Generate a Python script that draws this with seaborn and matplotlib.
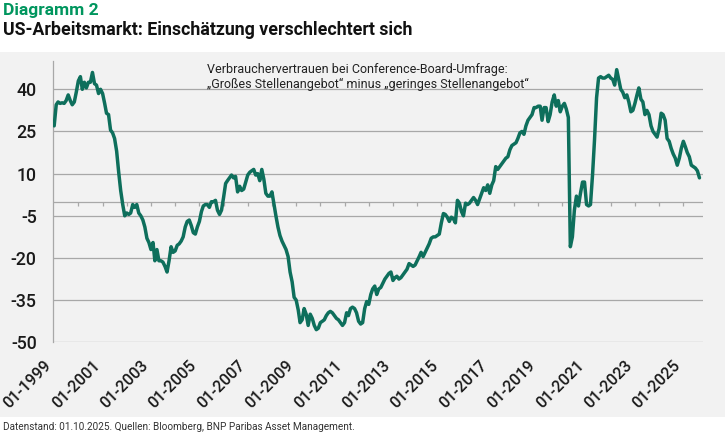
import matplotlib
matplotlib.use("Agg")
import numpy as np
import pandas as pd
import matplotlib.pyplot as plt
import seaborn as sns

# ---- data (monthly, 01-1999 .. 09-2025) ----
v1999 = [27, 34.5, 35.5, 35, 35.2, 35, 36, 38, 36, 34.5, 35.5, 39]
v2000 = [43, 44.5, 40, 42.5, 40.5, 42.5, 42.5, 46, 42, 41.5, 38.5, 40]
v2001 = [38.5, 35, 31.5, 31, 25.5, 24.5, 22.5, 18, 10.5, 4, -1, -5]
v2002 = [-4, -4.5, -4, -1, -2, -1, -4, -5, -6.5, -9, -13, -14.5]
v2003 = [-17, -14.5, -21, -17, -21, -21, -21.5, -23, -25, -21, -16, -18]
v2004 = [-17.5, -15.5, -15, -14, -12.5, -9, -7, -6.5, -8.5, -11, -11.5, -9]
v2005 = [-7, -3.5, -1.5, -1, -1, -2, 0, 0, 0.5, -3, -4.5, -3]
v2006 = [1.5, 6.5, 7.5, 8.5, 9.5, 8.5, 9, 3.5, 5.5, 4, 4.5, 7]
v2007 = [9.5, 10.5, 11, 11.5, 9.5, 10, 7.5, 11.5, 8, 3, 2, 2]
v2008 = [3.5, -1, -5, -9, -12, -14, -15.5, -17, -19.5, -25, -28.5, -34]
v2009 = [-35, -38.5, -43, -42, -38, -40, -44, -40, -41.5, -44, -45.5, -45]
v2010 = [-43, -42.5, -42, -40.5, -39.5, -39, -39.5, -40.5, -41.5, -42, -43, -44]
v2011 = [-43, -39.5, -40.5, -38, -37.5, -38, -39.5, -42.5, -43.5, -43, -38, -35.5]
v2012 = [-36.5, -33, -31, -30, -33, -31, -30.5, -29, -27.5, -26.5, -25.5, -25]
v2013 = [-28, -27, -26.5, -27.5, -27, -26, -25, -24, -22, -22.5, -23, -22.5]
v2014 = [-21, -19.5, -18, -19.5, -18, -16.5, -15, -13, -12.5, -12.5, -12, -11.5]
v2015 = [-7.5, -4.2, -4.5, -5.5, -7, -5.5, -6, -7.5, 0.5, -0.5, -3.5, -5]
v2016 = [-0.5, -1, -0.5, 0.5, 1.5, 0.5, -1, 1, 3, 5, 4, 6]
v2017 = [3, 6, 7.5, 12.5, 11.5, 12.5, 13.5, 14.5, 15.5, 16, 18.5, 20]
v2018 = [20.5, 21, 22.5, 24.5, 25, 24, 27, 29, 30, 31, 33.5, 33.5]
v2019 = [34, 34, 29, 33.5, 33.5, 28.5, 31, 35.5, 38, 34, 36, 32]
v2020 = [34, 35, 33, 30, -16, -12.5, -3, 2, -1.5, 3, 7, 7]
v2021 = [-1, -1.5, -1, 9.5, 22, 37, 44, 44.5, 44, 44, 44.5, 45]
v2022 = [44, 43.5, 41.5, 47, 43.5, 40, 39, 37, 38, 35.5, 32, 32.5]
v2023 = [35, 38, 40.5, 36.5, 35.5, 31, 32.5, 31, 27, 25, 24, 23]
v2024 = [26, 31.5, 31, 29, 22.5, 21.5, 19, 17, 15.5, 13, 15.5, 19]
v2025 = [21.5, 19.5, 17.5, 16, 13, 12.5, 12, 11, 8.5]

yearly = [v1999, v2000, v2001, v2002, v2003, v2004, v2005, v2006, v2007,
          v2008, v2009, v2010, v2011, v2012, v2013, v2014, v2015, v2016,
          v2017, v2018, v2019, v2020, v2021, v2022, v2023, v2024, v2025]
values = [v for year in yearly for v in year]
dates = pd.date_range("1999-01-01", periods=len(values), freq="MS")
df = pd.DataFrame({"date": dates, "value": values})

y_ticks = [-50, -35, -20, -5, 10, 25, 40]
label_years = list(range(1999, 2026, 2))
tick_years = list(range(2000, 2026))

title_top = "Diagramm 2"
title_main = "US-Arbeitsmarkt: Einschätzung verschlechtert sich"
note = ("Verbrauchervertrauen bei Conference-Board-Umfrage:\n"
        "\u201eGroßes Stellenangebot\u201c minus \u201egeringes Stellenangebot\u201c")
footer = "Datenstand: 01.10.2025. Quellen: Bloomberg, BNP Paribas Asset Management."

# ---- style ----
sns.set_style("white")
plt.rcParams["font.family"] = ["Roboto", "DejaVu Sans"]

LINE = "#0e6f5c"
GRID = "#a8a8a8"
BG = "#f2f2f2"

W, H = 725, 434
fig = plt.figure(figsize=(W / 100, H / 100), dpi=100)
fig.patch.set_facecolor("white")

# background panel as an empty axes behind the chart
bg = fig.add_axes([0, 17 / H, 1, (417 - 52) / H], zorder=-10)
bg.set_facecolor(BG)
bg.set_xticks([])
bg.set_yticks([])
for s in bg.spines.values():
    s.set_visible(False)

ax_left, ax_right = 53.3, 702.7
ax_top, ax_bot = 61.2, 342.3
ax = fig.add_axes([ax_left / W, 1 - ax_bot / H, (ax_right - ax_left) / W, (ax_bot - ax_top) / H])
ax.set_facecolor("none")

sns.lineplot(data=df, x="date", y="value", ax=ax, color=LINE, linewidth=2.5, zorder=5)

ax.set_ylim(-50, 50)
ax.set_xlim(pd.Timestamp("1998-12-19"), pd.Timestamp("2025-10-20"))
ax.set_yticks(y_ticks)
ax.set_yticklabels([str(t) for t in y_ticks], fontsize=12.8, color="#1a1a1a",
                   fontweight="medium")
for t in y_ticks:
    ax.axhline(t, color=GRID, linewidth=0.9, zorder=1)
ax.tick_params(axis="y", length=4, width=0.9, color=GRID, pad=8)

# zero line with yearly tick marks
ax.axhline(0, color=GRID, linewidth=0.9, zorder=1)
ax.vlines([pd.Timestamp(f"{y}-01-01") for y in tick_years], -1.5, 0,
          color=GRID, linewidth=0.9, zorder=1)

ax.set_xticks([pd.Timestamp(f"{y}-01-01") for y in label_years])
ax.set_xticklabels([f"01-{y}" for y in label_years], rotation=45, ha="right",
                   fontsize=11.6, color="#1a1a1a", fontweight="medium")
ax.tick_params(axis="x", length=0, pad=11)

for s in ["top", "right", "bottom"]:
    ax.spines[s].set_visible(False)
ax.spines["left"].set_color(GRID)
ax.spines["left"].set_linewidth(0.9)
ax.set_xlabel("")
ax.set_ylabel("")
ax.grid(False)

fig.text(3 / W, 1 - 3 / H, title_top, fontsize=12.5, fontweight="bold", color="#00965e",
         ha="left", va="top")
fig.text(3 / W, 1 - 21 / H, title_main, fontsize=12.8, fontweight="bold", color="#111111",
         ha="left", va="top")
ax.text(0.237, 0.995, note, transform=ax.transAxes, fontsize=9.0, color="#222222",
        ha="left", va="top", linespacing=1.2, zorder=6)
fig.text(3 / W, 1 - 427 / H, footer, fontsize=7.2, color="#333333", ha="left", va="center")

fig.savefig("out.png", dpi=100)
